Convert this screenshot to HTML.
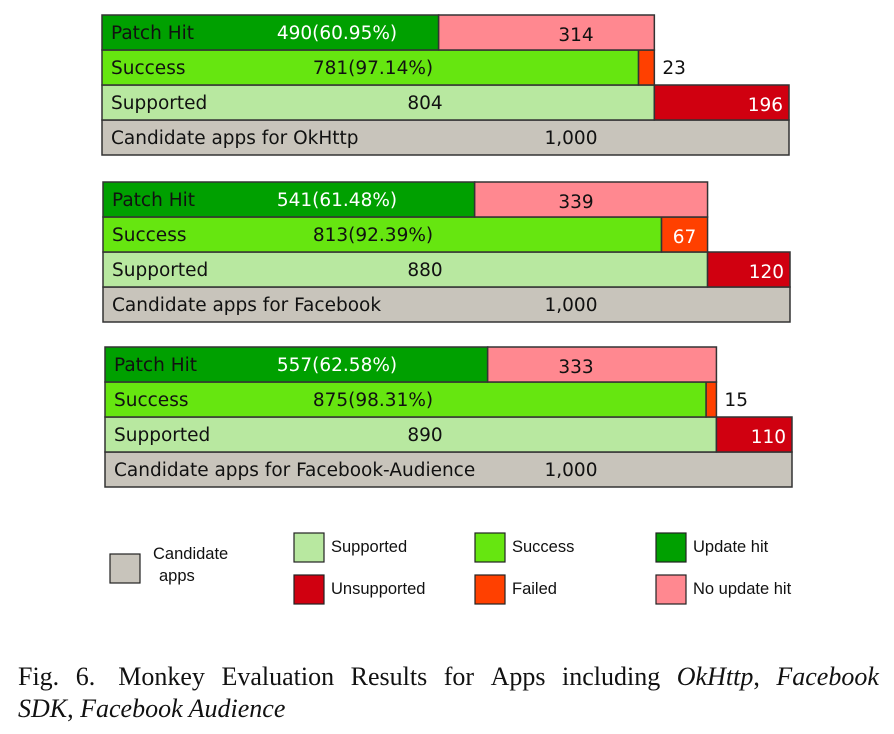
<!DOCTYPE html>
<html><head><meta charset="utf-8"><style>
body{margin:0;background:#fff;width:894px;height:734px;overflow:hidden;position:relative}
svg text{font-family:"DejaVu Sans","Liberation Sans",sans-serif}
.cap{position:absolute;left:18px;top:661px;width:861px;font-family:"Liberation Serif",serif;font-size:26px;line-height:32px;color:#111}
.l1{white-space:nowrap;display:flex;justify-content:space-between}
</style></head><body>
<svg id="chart" width="894" height="650" style="position:absolute;left:0;top:0"></svg>
<div class="cap">
<div class="l1"><span>Fig.</span><span>6.</span><span>&nbsp;Monkey</span><span>Evaluation</span><span>Results</span><span>for</span><span>Apps</span><span>including</span><span><i>OkHttp</i>,</span><span><i>Facebook</i></span></div>
<div><i>SDK</i>, <i>Facebook Audience</i></div>
</div>
<script>
const groupNames = ["OkHttp","Facebook","Facebook-Audience"];
const candidates = [1000,1000,1000];
const supported = [804,880,890];
const success = [781,813,875];
const successPct = ["97.14%","92.39%","98.31%"];
const patchHit = [490,541,557];
const patchPct = ["60.95%","61.48%","62.58%"];
const groupLeft=[102,103,105], groupTop=[15,182,347];
const rowH=35, fullW=687;
const svg=document.getElementById('chart');
const NS='http://www.w3.org/2000/svg';
function el(t,a,p){const e=document.createElementNS(NS,t);for(const k in a)e.setAttribute(k,a[k]);(p||svg).appendChild(e);return e;}
function rect(x,y,w,h,fill,name){const r=el('rect',{x,y,width:w,height:h,fill,stroke:'#333','stroke-width':1.5});

return r;}
function txt(x,y,s,anchor,fill,name){const t=el('text',{x,y,'font-size':18.5,'text-anchor':anchor,fill:fill||'#111'});t.textContent=s;

return t;}
const fmt=n=>n.toLocaleString('en-US');
for(let g=0;g<3;g++){
 const L=groupLeft[g],T=groupTop[g],sc=fullW/candidates[g];
 const X=v=>L+v*sc;
 const ys=[T,T+rowH,T+2*rowH,T+3*rowH];
 rect(L,ys[3],fullW,rowH,'#c8c4bb','candidate-bar');
 txt(L+9,ys[3]+24,'Candidate apps for '+groupNames[g],'start','#111','candidate-label');
 txt(571,ys[3]+24,fmt(candidates[g]),'middle','#111','candidate-value');
 rect(L,ys[2],X(supported[g])-L,rowH,'#b8e8a0','supported-bar');
 rect(X(supported[g]),ys[2],X(candidates[g])-X(supported[g]),rowH,'#d00010','unsupported-bar');
 txt(L+9,ys[2]+24,'Supported','start','#111','supported-label');
 txt(425,ys[2]+24,fmt(supported[g]),'middle','#111','supported-value');
 txt(X(candidates[g])-6,ys[2]+26,fmt(candidates[g]-supported[g]),'end','#fff','unsupported-value');
 rect(L,ys[1],X(success[g])-L,rowH,'#66e610','success-bar');
 rect(X(success[g]),ys[1],X(supported[g])-X(success[g]),rowH,'#ff4000','failed-bar');
 txt(L+9,ys[1]+24,'Success','start','#111','success-label');
 txt(373,ys[1]+24,success[g]+'('+successPct[g]+')','middle','#111','success-value');
 const f=supported[g]-success[g], fw=X(supported[g])-X(success[g]);
 if(fw>35) txt(X(success[g])+fw/2,ys[1]+26,f,'middle','#fff','failed-value');
 else txt(X(supported[g])+8,ys[1]+24,f,'start','#111','failed-value');
 rect(L,ys[0],X(patchHit[g])-L,rowH,'#00a000','patch-hit-bar');
 rect(X(patchHit[g]),ys[0],X(supported[g])-X(patchHit[g]),rowH,'#ff8890','no-patch-hit-bar');
 txt(L+9,ys[0]+24,'Patch Hit','start','#111','patch-hit-label');
 txt(337,ys[0]+24,patchHit[g]+'('+patchPct[g]+')','middle','#fff','patch-hit-value');
 txt(576,ys[0]+26,supported[g]-patchHit[g],'middle','#111','no-patch-hit-value');
}
const leg=[[110,554,'#c8c4bb',''],[294,533,'#b8e8a0','Supported'],[475,533,'#66e610','Success'],[656,533,'#00a000','Update hit'],
[294,575,'#d00010','Unsupported'],[475,575,'#ff4000','Failed'],[656,575,'#ff8890','No update hit']];
leg.forEach(l=>{const r=el('rect',{x:l[0],y:l[1],width:30,height:29,fill:l[2],stroke:'#222','stroke-width':1.2});


if(l[3]){const t=el('text',{x:l[0]+37,y:l[1]+19,'font-size':16.5,fill:'#111'});t.setAttribute('style','font-family:"Liberation Sans",sans-serif');t.textContent=l[3];

}});
[['Candidate',153,559],['apps',159,581]].forEach(a=>{const t=el('text',{x:a[1],y:a[2],'font-size':16.5,fill:'#111'});t.setAttribute('style','font-family:"Liberation Sans",sans-serif');t.textContent=a[0];

});
</script>
</body></html>
